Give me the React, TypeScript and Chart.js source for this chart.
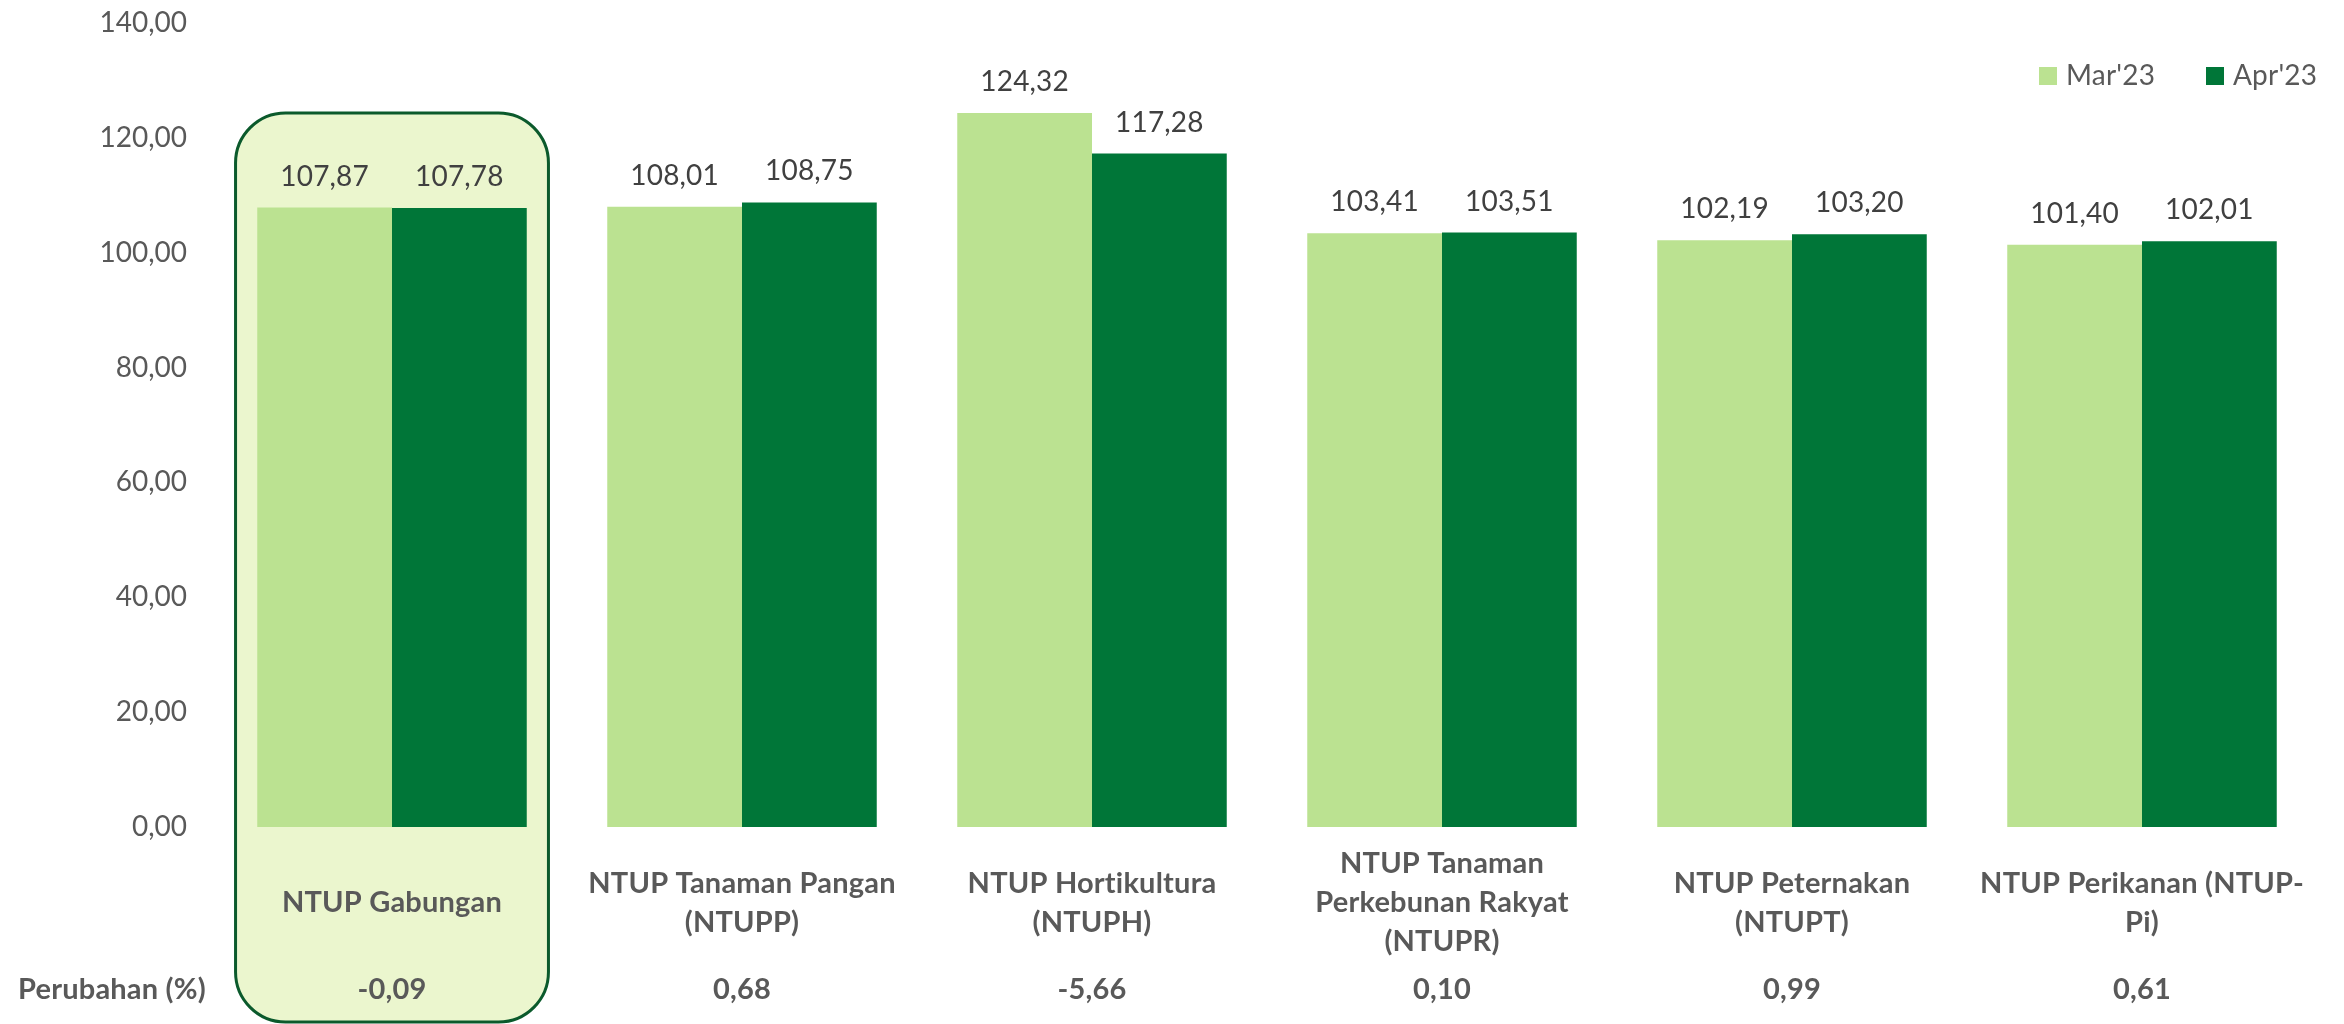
import React, { useEffect, useRef } from "react";
import { Chart, registerables } from "chart.js";

Chart.register(...registerables);

const categories: string[][] = [
  ["NTUP Gabungan"],
  ["NTUP Tanaman Pangan", "(NTUPP)"],
  ["NTUP Hortikultura", "(NTUPH)"],
  ["NTUP Tanaman", "Perkebunan Rakyat", "(NTUPR)"],
  ["NTUP Peternakan", "(NTUPT)"],
  ["NTUP Perikanan (NTUP-", "Pi)"],
];
const seriesNames = ["Mar'23", "Apr'23"];
const marValues = [107.87, 108.01, 124.32, 103.41, 102.19, 101.4];
const aprValues = [107.78, 108.75, 117.28, 103.51, 103.2, 102.01];
const changeLabel = "Perubahan (%)";
const changeValues = [-0.09, 0.68, -5.66, 0.1, 0.99, 0.61];

const LIGHT = "#BBE291";
const DARK = "#007638";
const BOX_FILL = "#EBF6CE";
const BOX_BORDER = "#0B5A2C";
const TICK_COLOR = "#595959";
const LABEL_COLOR = "#404040";
const FONT = "Lato, 'Open Sans', sans-serif";

const fmt = (v: number) =>
  v.toLocaleString("id-ID", { minimumFractionDigits: 2, maximumFractionDigits: 2 });

const highlightPlugin = {
  id: "highlightBox",
  beforeDatasetsDraw(chart: any) {
    const ctx = chart.ctx;
    const xs = chart.scales.x;
    const cx = xs.getPixelForValue(0);
    const catW = xs.width / categories.length;
    const halfW = catW * 0.447;
    const left = cx - halfW;
    const right = cx + halfW;
    const top = 113;
    const bottom = 1022;
    const r = 50;
    ctx.save();
    ctx.beginPath();
    ctx.moveTo(left + r, top);
    ctx.lineTo(right - r, top);
    ctx.arcTo(right, top, right, top + r, r);
    ctx.lineTo(right, bottom - r);
    ctx.arcTo(right, bottom, right - r, bottom, r);
    ctx.lineTo(left + r, bottom);
    ctx.arcTo(left, bottom, left, bottom - r, r);
    ctx.lineTo(left, top + r);
    ctx.arcTo(left, top, left + r, top, r);
    ctx.closePath();
    ctx.fillStyle = BOX_FILL;
    ctx.fill();
    ctx.lineWidth = 3;
    ctx.strokeStyle = BOX_BORDER;
    ctx.stroke();
    ctx.restore();
  },
};

const labelsPlugin = {
  id: "customLabels",
  afterDatasetsDraw(chart: any) {
    const ctx = chart.ctx;
    const xs = chart.scales.x;
    ctx.save();
    try {
      (ctx as any).letterSpacing = "0.2px";
    } catch (e) {}
    // data labels
    ctx.font = `28px ${FONT}`;
    ctx.fillStyle = LABEL_COLOR;
    ctx.textAlign = "center";
    ctx.textBaseline = "middle";
    chart.data.datasets.forEach((ds: any, di: number) => {
      const meta = chart.getDatasetMeta(di);
      meta.data.forEach((bar: any, i: number) => {
        ctx.fillText(fmt(ds.data[i]), bar.x, bar.y - 31);
      });
    });
    // category labels
    ctx.font = `bold 29px ${FONT}`;
    ctx.fillStyle = TICK_COLOR;
    const lineH = 39;
    const centerY = 903;
    categories.forEach((lines, i) => {
      const x = xs.getPixelForValue(i);
      const startY = centerY - ((lines.length - 1) * lineH) / 2;
      lines.forEach((ln, j) => ctx.fillText(ln, x, startY + j * lineH));
    });
    // change row
    const rowY = 990;
    ctx.textAlign = "left";
    ctx.fillText(changeLabel, 18, rowY);
    ctx.textAlign = "center";
    changeValues.forEach((v, i) => {
      ctx.fillText(fmt(v), xs.getPixelForValue(i), rowY);
    });
    // legend
    ctx.font = `28px ${FONT}`;
    ctx.textAlign = "left";
    const legendY = 76;
    const legendX = [2039, 2206];
    chart.data.datasets.forEach((ds: any, di: number) => {
      ctx.fillStyle = ds.backgroundColor;
      ctx.fillRect(legendX[di], legendY - 9, 18, 18);
      ctx.fillStyle = TICK_COLOR;
      ctx.fillText(ds.label, legendX[di] + 27, legendY);
    });
    ctx.restore();
  },
};

export default function App() {
  const ref = useRef<HTMLCanvasElement | null>(null);
  useEffect(() => {
    document.body.style.margin = "0";
    if (!ref.current) return;
    const chart = new Chart(ref.current, {
      type: "bar",
      data: {
        labels: categories.map((c) => c.join(" ")),
        datasets: [
          {
            label: seriesNames[0],
            data: marValues,
            backgroundColor: LIGHT,
            categoryPercentage: 0.77,
            barPercentage: 1,
          },
          {
            label: seriesNames[1],
            data: aprValues,
            backgroundColor: DARK,
            categoryPercentage: 0.77,
            barPercentage: 1,
          },
        ],
      },
      options: {
        animation: false,
        responsive: false,
        maintainAspectRatio: false,
        layout: { padding: { top: 23, bottom: 197, right: 27, left: 0 } },
        plugins: { legend: { display: false }, tooltip: { enabled: false } },
        scales: {
          x: { display: false, grid: { display: false } },
          y: {
            min: 0,
            max: 140,
            afterFit: (scale: any) => {
              scale.width = 217;
            },
            grid: { display: false, drawTicks: true, tickLength: 30 },
            border: { display: false },
            ticks: {
              stepSize: 20,
              padding: 0,
              color: TICK_COLOR,
              font: { family: FONT, size: 28 },
              callback: (v: any) => fmt(Number(v)),
            },
          },
        },
      },
      plugins: [highlightPlugin, labelsPlugin],
    });
    return () => chart.destroy();
  }, []);
  return (
    <div style={{ width: 2344, height: 1024 }}>
      <canvas ref={ref} width={2344} height={1024} style={{ width: 2344, height: 1024, display: "block" }} />
    </div>
  );
}
